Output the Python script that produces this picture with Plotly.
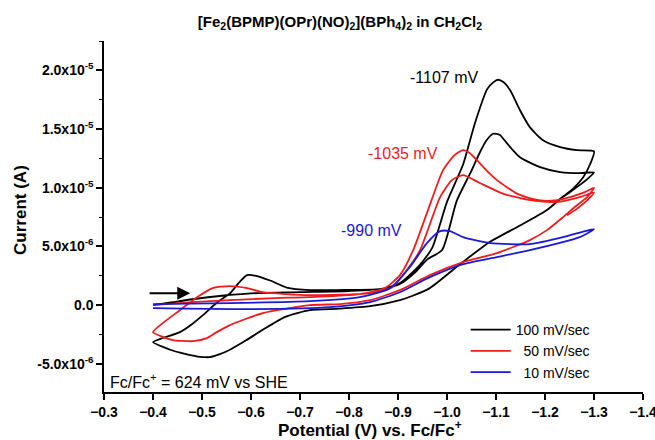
import numpy as np
import plotly.graph_objects as go

# ---------------- data (potential in V vs Fc/Fc+, current in microamps) ----------------
# 100 mV/sec
v100 = [-0.400,-0.440,-0.480,-0.540,-0.600,-0.700,-0.800,-0.870,-0.905,-0.930,-0.950,-0.970,-1.000,-1.033,-1.057,-1.082,-1.095,-1.104,-1.115,-1.129,-1.149,-1.169,-1.196,-1.231,-1.265,-1.300,
        -1.292,-1.278,-1.258,-1.237,-1.204,-1.150,-1.088,-1.030,-0.965,-0.930,-0.904,-0.843,-0.780,-0.720,-0.670,-0.624,-0.590,-0.557,-0.535,-0.516,-0.495,-0.476,-0.455,-0.435,-0.400,
        -0.420,-0.455,-0.480,-0.502,-0.530,-0.557,-0.575,-0.592,-0.610,-0.639,-0.673,-0.720,-0.800,-0.863,-0.904,-0.935,-0.960,-0.990,-1.020,-1.047,-1.067,-1.080,-1.094,-1.108,-1.122,-1.149,-1.190,-1.231,-1.271,-1.300,
        -1.288,-1.270,-1.250,-1.230]
i100 = [0.00,0.25,0.50,0.80,1.00,1.10,1.20,1.40,1.90,2.80,3.70,4.90,8.80,12.00,15.50,18.40,19.00,19.20,19.00,18.30,16.60,15.16,14.05,13.46,13.20,13.10,
        12.00,10.90,9.95,9.25,8.10,6.80,5.40,3.60,1.45,0.80,0.43,-0.09,-0.30,-0.43,-1.00,-2.10,-3.00,-3.80,-4.20,-4.43,-4.40,-4.26,-4.05,-3.80,-3.15,
        -2.80,-2.30,-1.60,-0.85,0.20,1.00,1.90,2.56,2.50,2.10,1.50,1.28,1.30,1.36,1.80,2.80,3.90,4.70,8.90,11.20,13.00,14.00,14.60,14.50,13.80,12.60,11.75,11.33,11.24,11.30,
        10.80,10.20,9.60,9.05]

# 50 mV/sec
v50 = [-0.400,-0.480,-0.557,-0.650,-0.720,-0.822,-0.873,-0.904,-0.931,-0.959,-0.992,-1.016,-1.033,-1.045,-1.061,-1.080,-1.102,-1.143,-1.170,-1.196,-1.225,-1.251,-1.280,-1.300,
       -1.286,-1.262,-1.237,-1.204,-1.169,-1.102,-1.033,-0.965,-0.904,-0.843,-0.782,-0.720,-0.624,-0.557,-0.530,-0.510,-0.482,-0.460,-0.441,-0.420,-0.400,
       -0.420,-0.455,-0.490,-0.522,-0.557,-0.592,-0.624,-0.720,-0.843,-0.888,-0.918,-0.945,-0.986,-1.010,-1.033,-1.067,-1.114,-1.169,-1.224,-1.271,-1.300,
       -1.288,-1.265,-1.245]
i50 = [0.00,0.25,0.43,0.60,0.68,0.94,1.45,2.56,4.68,7.84,11.50,12.80,13.20,13.00,12.35,11.50,10.65,9.50,9.10,8.90,8.95,9.20,9.60,10.00,
       9.20,8.40,7.50,6.39,5.54,4.43,3.66,2.56,1.28,0.43,0.09,0.00,-0.68,-1.70,-2.30,-2.81,-3.07,-3.05,-2.98,-2.70,-2.30,
       -1.53,-0.43,0.68,1.45,1.62,1.45,1.10,0.85,1.02,1.53,2.98,4.68,9.20,10.65,11.07,10.40,9.50,8.94,8.77,9.20,9.60,
       9.00,8.20,7.65]

# 10 mV/sec
v10 = [-0.400,-0.557,-0.720,-0.822,-0.884,-0.924,-0.959,-0.986,-1.006,-1.033,-1.088,-1.169,-1.237,-1.282,-1.300,
       -1.271,-1.169,-1.102,-1.033,-0.965,-0.904,-0.843,-0.761,-0.598,-0.400]
i10 = [0.09,0.17,0.34,0.68,1.45,3.24,5.28,6.30,6.30,5.79,5.28,5.20,5.79,6.30,6.47,
       5.79,4.68,4.09,3.49,2.38,1.10,0.26,-0.17,-0.34,-0.26]

series_names = ["100 mV/sec", "\u00a0\u00a050 mV/sec", "\u00a0\u00a010 mV/sec"]
series_colors = ["#000000", "#ee1c1c", "#1a1ad8"]
series_v = [v100, v50, v10]
series_i = [i100, i50, i10]

peak_labels = ["-1107 mV", "-1035 mV", "-990 mV"]
peak_label_pos = [(-0.994, 1.94e-5), (-0.910, 1.295e-5), (-0.845, 6.35e-6)]

ytick_vals = [-5e-6, 0, 5e-6, 1e-5, 1.5e-5, 2e-5]
ytick_text = ["-5.0x10<sup>-6</sup>", "0.0", "5.0x10<sup>-6</sup>", "1.0x10<sup>-5</sup>",
              "1.5x10<sup>-5</sup>", "2.0x10<sup>-5</sup>"]
yminor_vals = [-7.5e-6, -2.5e-6, 2.5e-6, 7.5e-6, 1.25e-5, 1.75e-5, 2.25e-5]

FONT = "Liberation Sans, Arial, sans-serif"

fig = go.Figure()
for name, col, vv, ii in zip(series_names, series_colors, series_v, series_i):
    fig.add_trace(go.Scatter(
        x=vv, y=np.array(ii) * 1e-6, mode="lines", name=name,
        line=dict(color=col, width=1.8, shape="spline", smoothing=0.6),
    ))

for txt, col, (px, py) in zip(peak_labels, series_colors, peak_label_pos):
    fig.add_annotation(x=px, y=py, xref="x", yref="y", text=txt, showarrow=False,
                       font=dict(family=FONT, size=16, color=col))

# scan direction arrow
fig.add_annotation(x=-0.476, y=1.02e-6, ax=-0.39, ay=1.02e-6, xref="x", yref="y",
                   axref="x", ayref="y", text="", showarrow=True, arrowhead=2,
                   arrowsize=1.3, arrowwidth=2, arrowcolor="#000000")

fig.add_annotation(x=0.008, y=0.032, xref="paper", yref="paper", xanchor="left",
                   yanchor="middle", text="Fc/Fc<sup>+</sup> = 624 mV vs SHE",
                   showarrow=False, font=dict(family=FONT, size=16, color="#000000"))

# axis titles
fig.add_annotation(x=0.4935, y=-0.106, xref="paper", yref="paper", xanchor="center",
                   yanchor="middle", text="<b>Potential (V) vs. Fc/Fc<sup>+</sup></b>",
                   showarrow=False, font=dict(family=FONT, size=17, color="#000000"))
fig.add_annotation(x=-0.156, y=0.5185, xref="paper", yref="paper", xanchor="center",
                   yanchor="middle", text="<b>Current (A)</b>", textangle=-90,
                   showarrow=False, font=dict(family=FONT, size=17, color="#000000"))

fig.update_layout(
    width=655, height=440,
    margin=dict(l=104, r=12, t=41, b=48, autoexpand=False),
    paper_bgcolor="white", plot_bgcolor="white",
    font=dict(family=FONT, color="#000000"),
    title=dict(text="[Fe<sub>2</sub>(BPMP)(OPr)(NO)<sub>2</sub>](BPh<sub>4</sub>)<sub>2</sub> in CH<sub>2</sub>Cl<sub>2</sub>",
               x=0.519, xanchor="center", y=0.951, yanchor="middle",
               font=dict(family=FONT, size=15, weight="bold", color="#000000")),
    legend=dict(x=0.671, y=0.222, xanchor="left", yanchor="top",
                bgcolor="rgba(0,0,0,0)", font=dict(family=FONT, size=14, color="#000000"),
                tracegroupgap=0, itemwidth=40),
    showlegend=True,
)

fig.update_xaxes(
    range=[-0.3, -1.4], tick0=-0.3, dtick=0.1, tickformat=".1f", automargin=False,
    ticklabeloverflow="allow",
    showline=True, linecolor="#000000", linewidth=1.5, mirror=False,
    ticks="outside", ticklen=6, tickwidth=1.5, tickcolor="#000000",
    showgrid=False, zeroline=False,
    tickfont=dict(family=FONT, size=14, weight="bold"),
)
fig.update_yaxes(
    range=[-7.4e-6, 2.25e-5], tickmode="array", tickvals=ytick_vals, ticktext=ytick_text,
    automargin=False, ticklabeloverflow="allow",
    showline=True, linecolor="#000000", linewidth=1.5, mirror=False,
    ticks="outside", ticklen=6, tickwidth=1.5, tickcolor="#000000",
    minor=dict(tickmode="array", tickvals=yminor_vals, ticks="outside", ticklen=3,
               tickwidth=1.2, tickcolor="#000000", showgrid=False),
    showgrid=False, zeroline=False,
    tickfont=dict(family=FONT, size=14, weight="bold"),
)

fig.write_html("out.html", config={"displayModeBar": False},
               post_script="document.body.style.margin='0';document.body.style.padding='0';")
